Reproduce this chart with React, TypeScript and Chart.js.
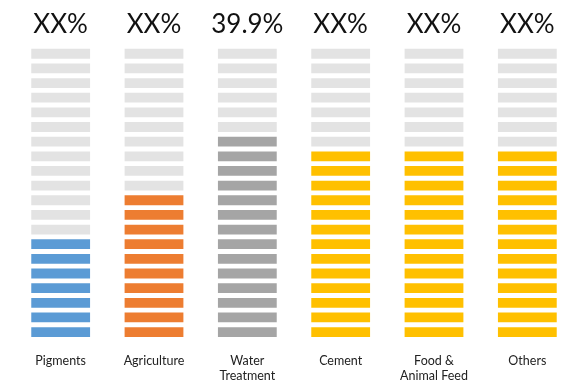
import React, { useEffect, useRef } from "react";
import { Chart, registerables } from "chart.js";

Chart.register(...registerables);

const categories: string[][] = [
  ["Pigments"],
  ["Agriculture"],
  ["Water", "Treatment"],
  ["Cement"],
  ["Food &", "Animal Feed"],
  ["Others"],
];
const filledSegments = [7, 10, 14, 13, 13, 13];
const topLabels = ["XX%", "XX%", "39.9%", "XX%", "XX%", "XX%"];
const totalSegments = 20;
const segmentColors = ["#5B9BD5", "#ED7D31", "#A5A5A5", "#FFC000", "#FFC000", "#FFC000"];
const emptyColor = "#E3E3E3";
const segmentFill = 0.67;

const topLabelPlugin = {
  id: "topLabels",
  afterDraw(chart: any) {
    const { ctx, scales } = chart;
    const x = scales.x;
    ctx.save();
    ctx.font = "26px Lato, 'Open Sans', sans-serif";
    ctx.fillStyle = "#111";
    ctx.textAlign = "center";
    ctx.textBaseline = "middle";
    topLabels.forEach((t, i) => {
      ctx.fillText(t, x.getPixelForValue(i), 25);
    });
    ctx.restore();
  },
};

export default function App() {
  const ref = useRef<HTMLCanvasElement>(null);
  useEffect(() => {
    document.body.style.margin = "0";
    const datasets = [];
    for (let i = 0; i < totalSegments; i++) {
      datasets.push({
        label: "seg" + i,
        data: categories.map(() => [i, i + segmentFill]),
        backgroundColor: categories.map((_, c) =>
          i < filledSegments[c] ? segmentColors[c] : emptyColor
        ),
        borderWidth: 0,
        grouped: false,
        categoryPercentage: 1,
        barPercentage: 0.63,
      });
    }
    const chart = new Chart(ref.current!, {
      type: "bar",
      data: { labels: categories as any, datasets: datasets as any },
      options: {
        animation: false,
        responsive: false,
        layout: { padding: { top: 44, left: 14, right: 11, bottom: 0 } },
        plugins: { legend: { display: false }, tooltip: { enabled: false } },
        scales: {
          x: {
            grid: { display: false },
            border: { display: false },
            afterFit: (scale: any) => {
              scale.height = 54;
            },
            ticks: {
              padding: 8,
              color: "#222",
              font: { family: "Lato, 'Open Sans', sans-serif", size: 12.5, lineHeight: 1.25 },
              maxRotation: 0,
              autoSkip: false,
            },
          },
          y: { display: false, min: 0, max: totalSegments },
        },
      },
      plugins: [topLabelPlugin],
    });
    return () => chart.destroy();
  }, []);
  return <canvas ref={ref} width={585} height={391} style={{ display: "block" }} />;
}
